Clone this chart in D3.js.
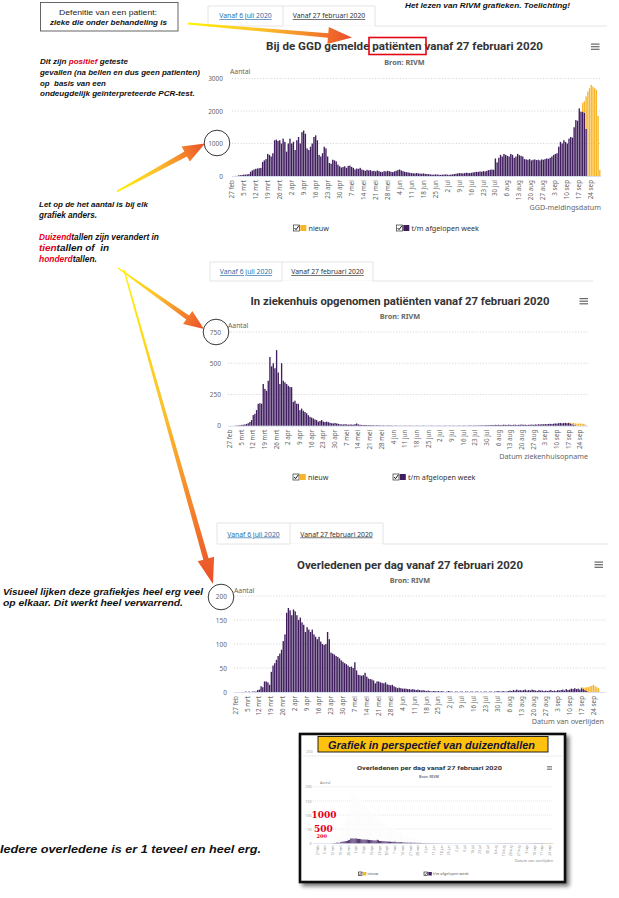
<!DOCTYPE html>
<html><head><meta charset="utf-8">
<script src="https://cdn.jsdelivr.net/npm/d3@7"></script>
<style>body{margin:0;background:#fff}svg{display:block}</style>
</head><body>
<svg id="c" width="619" height="898"></svg>
<script>
// ---------------- DATA ----------------
const tickLabels = ["27 feb","5 mrt","12 mrt","19 mrt","26 mrt","2 apr","9 apr","16 apr","23 apr","30 apr","7 mei","14 mei","21 mei","28 mei","4 jun","11 jun","18 jun","25 jun","2 jul","9 jul","16 jul","23 jul","30 jul","6 aug","13 aug","20 aug","27 aug","3 sep","10 sep","17 sep","24 sep"];
// GGD gemelde patiënten, "t/m afgelopen week" per dag vanaf 27 feb
const ggdWeek = [
0,0,2,3,20,25,30,45,40,50,
60,130,170,200,220,230,240,250,430,480,
520,680,650,600,700,1100,1120,1080,1100,1000,
1150,1050,750,1000,1150,1000,1050,800,1100,1200,
1000,1350,1400,1300,850,800,900,1000,1200,1250,
1100,650,600,700,900,850,600,400,380,500,
480,450,350,300,260,280,300,250,310,320,
280,250,200,230,220,250,200,180,160,190,
170,180,150,160,140,170,150,130,120,150,
140,160,150,130,120,140,160,180,200,170,
150,130,120,110,100,90,85,80,90,80,
75,70,80,65,60,55,50,45,40,50,
45,40,35,40,45,50,40,35,45,50,
60,70,80,90,85,80,90,100,95,90,
100,110,120,130,125,140,130,150,140,160,
180,190,200,190,540,420,560,650,600,680,
650,620,600,680,650,560,600,680,640,620,
600,520,510,500,520,480,500,510,490,500,
480,510,500,520,540,530,560,600,650,680,
700,900,1050,1000,1100,1050,1000,1150,1200,1180,
1500,1720,1700,2080,1980,1980,1950,1450,0,0,
0,0,0,0,0,0];
const ggdNewStart = 205;
const ggdNew = [270,350,1000,2600,2700,2800,2750,2700,2650,1850,185];
const ggdTicks = [0,1000,2000,3000];

// In ziekenhuis opgenomen
const zhWeek = [
0,0,0,1,2,3,4,6,8,10,
14,20,30,45,85,95,125,175,180,176,
334,295,280,360,550,475,500,460,605,426,
334,500,360,347,334,320,310,308,190,200,
176,176,124,137,120,110,100,84,71,65,
58,50,45,32,38,45,32,30,32,28,
24,20,18,22,18,15,12,10,10,12,
10,8,10,9,8,12,18,10,8,6,
5,6,5,4,5,4,4,3,4,3,
3,2,3,2,2,3,2,2,1,2,
2,1,2,1,1,2,1,1,2,1,
1,1,2,1,1,1,2,1,1,1,
1,2,1,1,1,2,1,1,1,2,
1,1,2,1,2,1,1,2,2,1,
2,2,1,2,3,2,2,3,2,3,
3,4,3,4,5,4,5,6,5,7,
6,7,5,6,8,7,6,8,7,6,
7,8,6,7,8,9,7,8,6,7,
8,9,7,10,9,11,10,12,11,13,
12,14,15,13,16,18,17,20,22,19,
21,23,20,22,18,12,8,4,0,0,
0,0,0,0];
const zhNewStart = 203;
const zhNew = [2,6,10,14,14,16,18,17,16,15,10];
const zhTicks = [0,250,500,750];

// Overledenen per dag
const ovlWeek = [
0,0,0,0,0,0,1,0,1,0,
1,1,1,4,5,12,10,22,22,20,
15,42,55,60,67,75,80,88,106,120,
165,175,170,160,172,168,160,150,155,145,
140,125,135,130,125,130,120,115,110,115,
105,100,98,100,125,110,82,80,78,75,
73,70,66,63,60,58,55,52,53,50,
62,45,36,35,34,35,40,32,28,27,
26,24,18,22,22,20,19,18,20,16,
15,14,15,12,10,8,9,8,7,7,
7,6,6,5,6,5,4,5,4,3,
4,3,2,3,2,1,2,2,1,2,
1,2,1,0,1,2,1,1,0,1,
1,0,1,1,0,1,1,0,1,1,
0,1,1,0,1,0,1,1,0,1,
1,0,1,1,2,1,1,2,1,1,
2,3,2,4,3,5,3,4,3,4,
5,3,4,3,5,4,3,2,4,3,
3,2,3,2,3,4,2,3,2,4,
3,4,5,3,6,4,5,7,6,8,
6,7,5,8,6,4,2,0,0,0,
0,0,0,0];
const ovlNewStart = 203;
const ovlNew = [2,3,5,8,10,12,13,15,12,10,8];
const ovlTicks = [0,50,100,150,200];
const miniTicks = [0,50,100,150,200];
const miniRedLabels = [["1000",1000],["500",500],["200",200]];

// ---------------- STYLE ----------------
const PURPLE = "#3f1d5e", ORANGE = "#f7b52c";
const FONT = "'Noto Sans', 'Open Sans', sans-serif";
const AFONT = "'Liberation Sans', Arial, sans-serif";
const svg = d3.select('#c');
const defs = svg.append('defs');
const fmt = d3.format('d');

// stretch to the wanted width, or shrink the font so the natural width never exceeds it
function fitText(sel, w){
  const nat = sel.node().getComputedTextLength();
  if (nat > w){
    const fs = parseFloat(sel.attr('font-size'));
    sel.attr('font-size', (fs * w / nat).toFixed(2));
  } else {
    sel.attr('textLength', w).attr('lengthAdjust','spacingAndGlyphs');
  }
}
function squeezeText(sel, w){
  sel.attr('textLength', w).attr('lengthAdjust','spacingAndGlyphs');
}
function richLine(x, y, segs, w, size){
  const t = svg.append('text').attr('x',x).attr('y',y).attr('font-family',AFONT)
    .attr('font-weight',700).attr('font-style','italic').attr('font-size',size||9).attr('fill','#111')
    .attr('xml:space','preserve');
  segs.forEach(s=>{
    if (typeof s === 'string') t.append('tspan').text(s);
    else t.append('tspan').attr('fill','#e2001a').text(s.r);
  });
  if (w) fitText(t, w);
  return t;
}
function arrow(id, x0,y0,x1,y1,w0,w1,hw,hl){
  const dx=x1-x0, dy=y1-y0, L=Math.hypot(dx,dy), ux=dx/L, uy=dy/L, nx=-uy, ny=ux;
  const bx=x1-ux*hl, by=y1-uy*hl;
  const pts=[[x0+nx*w0/2,y0+ny*w0/2],[bx+nx*w1/2,by+ny*w1/2],[bx+nx*hw,by+ny*hw],[x1,y1],
             [bx-nx*hw,by-ny*hw],[bx-nx*w1/2,by-ny*w1/2],[x0-nx*w0/2,y0-ny*w0/2]];
  const g=defs.append('linearGradient').attr('id',id).attr('gradientUnits','userSpaceOnUse')
    .attr('x1',x0).attr('y1',y0).attr('x2',x1).attr('y2',y1);
  g.append('stop').attr('offset',0).attr('stop-color','#fff200');
  g.append('stop').attr('offset',0.45).attr('stop-color','#fbc02d');
  g.append('stop').attr('offset',0.8).attr('stop-color','#f37a2a');
  g.append('stop').attr('offset',1).attr('stop-color','#e94e2a');
  svg.append('path').attr('d','M'+pts.map(p=>p.map(v=>v.toFixed(1)).join(',')).join('L')+'Z')
    .attr('fill',`url(#${id})`);
}
function checkbox(g, x, y, s, col){
  g.append('rect').attr('x',x).attr('y',y).attr('width',s).attr('height',s).attr('fill','#fff').attr('stroke','#333').attr('stroke-width',0.7);
  g.append('path').attr('d',`M${x+s*0.18},${y+s*0.5}L${x+s*0.42},${y+s*0.78}L${x+s*0.9},${y+s*0.12}`).attr('fill','none').attr('stroke','#111').attr('stroke-width',s*0.16);
  g.append('rect').attr('x',x+s+0.8).attr('y',y).attr('width',s).attr('height',s).attr('fill',col);
}

function drawChart(o){
  const g = svg.append('g');
  // tabs
  const tb = o.tabs;
  g.append('line').attr('x1',tb.x0).attr('x2',tb.x1).attr('y1',tb.yb).attr('y2',tb.yb).attr('stroke','#e4e4e4');
  g.append('line').attr('x1',tb.m).attr('x2',tb.x2).attr('y1',tb.yb+0.5).attr('y2',tb.yb+0.5).attr('stroke','#fff').attr('stroke-width',2);
  g.append('path').attr('d',`M${tb.x0},${tb.yb}V${tb.yt}H${tb.x2}V${tb.yb}M${tb.m},${tb.yt}V${tb.yb}`).attr('fill','none').attr('stroke','#e4e4e4');
  g.append('text').attr('x',(tb.x0+tb.m)/2).attr('y',tb.ty).attr('text-anchor','middle').attr('font-family',FONT)
    .attr('font-size',6.8).attr('fill','#2f6fa8').attr('text-decoration','underline').text('Vanaf 6 juli 2020');
  g.append('text').attr('x',(tb.m+tb.x2)/2).attr('y',tb.ty).attr('text-anchor','middle').attr('font-family',FONT)
    .attr('font-size',6.8).attr('fill','#333').attr('text-decoration','underline').text('Vanaf 27 februari 2020');

  // title
  const t = g.append('text').attr('x',o.tx).attr('y',o.ty).attr('text-anchor','middle').attr('font-family',"Roboto, 'Noto Sans', sans-serif")
    .attr('font-weight',700).attr('font-size',11.5).attr('fill','#333').text(o.title);
  squeezeText(t, o.tw);
  g.append('text').attr('x',o.tx).attr('y',o.by).attr('text-anchor','middle').attr('font-family',FONT)
    .attr('font-weight',700).attr('font-size',7.3).attr('fill','#666').text('Bron: RIVM');
  // menu icon
  for (let k=0;k<3;k++) g.append('rect').attr('x',o.mx).attr('y',o.my+k*2.6).attr('width',8.5).attr('height',1.2).attr('fill','#666');

  const x = d3.scaleBand().domain(d3.range(o.week.length)).range([o.bx0,o.bx1]).paddingInner(0.2);
  const y = d3.scaleLinear().domain([0,o.ticks[o.ticks.length-1]]).range([o.y0,o.y1]);

  g.selectAll('.grid').data(o.ticks.filter(v=>v>0)).join('line')
    .attr('x1',o.gx0).attr('x2',o.gx1).attr('y1',d=>y(d)).attr('y2',d=>y(d))
    .attr('stroke','#cfcfcf').attr('stroke-width',0.8).attr('stroke-dasharray','1.2,1.6');
  g.append('line').attr('x1',o.gx0).attr('x2',o.gx1).attr('y1',o.y0+0.5).attr('y2',o.y0+0.5).attr('stroke','#ccd6eb').attr('stroke-width',0.8);
  g.append('text').attr('x',o.ax).attr('y',o.ay).attr('font-family',FONT).attr('font-size',6.8).attr('fill','#666').text('Aantal');

  g.append('g').selectAll('rect').data(o.week).join('rect')
    .attr('x',(d,i)=>x(i)).attr('width',x.bandwidth()).attr('y',d=>y(d)).attr('height',d=>o.y0-y(d)).attr('fill',PURPLE);
  g.append('g').selectAll('rect').data(o.nw).join('rect')
    .attr('x',(d,i)=>x(o.ns+i)).attr('width',x.bandwidth())
    .attr('y',(d,i)=>y(o.week[o.ns+i]+d)).attr('height',(d,i)=>y(o.week[o.ns+i])-y(o.week[o.ns+i]+d)).attr('fill',ORANGE);

  const ya = g.append('g').attr('transform',`translate(${o.ylx},0)`)
    .call(d3.axisLeft(y).tickValues(o.ticks).tickFormat(fmt).tickSize(0).tickPadding(0));
  ya.select('.domain').remove();
  ya.selectAll('text').attr('font-family',FONT).attr('font-size',6.5).attr('fill','#666');

  const xa = g.append('g').attr('transform',`translate(0,${o.y0})`)
    .call(d3.axisBottom(x).tickValues(tickLabels.map((d,i)=>i*7)).tickFormat((d,i)=>tickLabels[i]).tickSize(0));
  xa.select('.domain').remove();
  xa.selectAll('text').attr('transform','rotate(-90)').attr('text-anchor','end').attr('x',-4).attr('y',0).attr('dy','0.33em')
    .attr('font-family',FONT).attr('font-size',6.3).attr('fill','#666');

  g.append('text').attr('x',o.xtx).attr('y',o.xty).attr('text-anchor','end').attr('font-family',FONT)
    .attr('font-size',7.2).attr('fill','#666').text(o.xtitle);

  if (o.ly){
    checkbox(g, o.l1, o.ly-6, 6, ORANGE);
    g.append('text').attr('x',o.l1+15).attr('y',o.ly).attr('font-family',FONT).attr('font-size',7.2).attr('fill','#333').text('nieuw');
    checkbox(g, o.l2, o.ly-6, 6, PURPLE);
    g.append('text').attr('x',o.l2+15).attr('y',o.ly).attr('font-family',FONT).attr('font-size',7.2).attr('fill','#333').text('t/m afgelopen week');
  }
  return {x,y};
}

// ------------- CHART 1 -------------
drawChart({tabs:{x0:208,m:283,x2:375,x1:607,yt:6,yb:26,ty:18},
  title:'Bij de GGD gemelde patiënten vanaf 27 februari 2020', tx:404.5, ty:49.5, tw:277, by:65, mx:591, my:43.5,
  week:ggdWeek, ns:ggdNewStart, nw:ggdNew, ticks:ggdTicks,
  bx0:231.1, bx1:600.5, y0:176, y1:78.5, gx0:232, gx1:601, ylx:223, ax:230, ay:74,
  xtitle:'GGD-meldingsdatum', xtx:601, xty:209.5, ly:231, l1:293.5, l2:396.5});

// ------------- CHART 2 -------------
drawChart({tabs:{x0:210,m:282,x2:373,x1:593,yt:262,yb:281,ty:274},
  title:'In ziekenhuis opgenomen patiënten vanaf 27 februari 2020', tx:400, ty:304.5, tw:299, by:319, mx:579.5, my:298,
  week:zhWeek, ns:zhNewStart, nw:zhNew, ticks:zhTicks,
  bx0:229.2, bx1:586, y0:425.7, y1:332, gx0:228, gx1:588, ylx:221, ax:228, ay:328,
  xtitle:'Datum ziekenhuisopname', xtx:588, xty:458.5, ly:480, l1:293, l2:393});

// ------------- CHART 3 -------------
drawChart({tabs:{x0:217,m:290,x2:383,x1:608,yt:523,yb:544,ty:536.5},
  title:'Overledenen per dag vanaf 27 februari 2020', tx:410, ty:568.5, tw:226, by:583, mx:594.5, my:561.5,
  week:ovlWeek, ns:ovlNewStart, nw:ovlNew, ticks:ovlTicks,
  bx0:234.85, bx1:599.3, y0:692, y1:596, gx0:234, gx1:605, ylx:227, ax:234, ay:593,
  xtitle:'Datum van overlijden', xtx:604, xty:724, ly:null});

// ------------- ANNOTATIONS -------------
// header box
svg.append('rect').attr('x',40.5).attr('y',2.5).attr('width',137.5).attr('height',28.5).attr('fill','#fff').attr('stroke','#555').attr('stroke-width',0.9);
{ const t1 = svg.append('text').attr('x',108).attr('y',14.5).attr('text-anchor','middle').attr('font-family',AFONT).attr('font-size',8).attr('fill','#222').text('Defenitie van een patient:'); fitText(t1,98);
  const t2 = svg.append('text').attr('x',108.5).attr('y',25).attr('text-anchor','middle').attr('font-family',AFONT).attr('font-weight',700).attr('font-style','italic').attr('font-size',8.3).attr('fill','#111').text('zieke die onder behandeling is'); fitText(t2,117); }
richLine(405, 8, ['Het lezen van RIVM grafieken. Toelichting!'], 165, 8);

richLine(40, 64.3, ['Dit zijn ', {r:'positief'}, ' geteste'], 88, 8.6);
richLine(40, 75.3, ['gevallen (na bellen en dus geen patienten)'], 160, 8.6);
richLine(40, 85.5, ['op  basis van een'], 66, 8.6);
richLine(40, 96, ['ondeugdelijk geïnterpreteerde PCR-test.'], 155, 8.6);

richLine(39, 207, ['Let op de het aantal is bij elk'], 109, 8.6);
richLine(39, 218, ['grafiek anders.'], 58, 8.6);
richLine(39, 239.5, [{r:'Duizend'}, 'tallen zijn verandert in'], 120, 8.6);
richLine(39, 250.5, [{r:'tien'}, 'tallen of  in'], 70, 8.6);
richLine(39, 261.5, [{r:'honderd'}, 'tallen.'], 58, 8.6);

richLine(3, 595, ['Visueel lijken deze grafiekjes heel erg veel'], 200, 9.3);
richLine(3, 606, ['op elkaar. Dit werkt heel verwarrend.'], 180, 9.3);
richLine(0, 853, ['Iedere overledene is er 1 teveel en heel erg.'], 261, 11.5);

// red box around "patiënten"
svg.append('rect').attr('x',369).attr('y',37.5).attr('width',57).attr('height',17).attr('fill','none').attr('stroke','#e30613').attr('stroke-width',1.6);

// circles
[[217,143],[216,332],[221,597]].forEach(c=>svg.append('circle').attr('cx',c[0]).attr('cy',c[1]).attr('r',12.8).attr('fill','none').attr('stroke','#222').attr('stroke-width',0.9));

// arrows
arrow('ga1', 188,23.5, 352,37.5, 2,4.5, 8.5,24);
arrow('ga2', 117,191.5, 205,143.5, 1.5,5.5, 8.5,22);
arrow('ga3', 118,268, 204,329, 1.2,5, 8,20);
arrow('ga4', 124,270, 213,584, 1.2,5.5, 8.5,26);

// ------------- INSET -------------
{
  const f = defs.append('filter').attr('id','sh').attr('x','-10%').attr('y','-10%').attr('width','130%').attr('height','130%');
  f.append('feGaussianBlur').attr('in','SourceAlpha').attr('stdDeviation',2.2);
  f.append('feOffset').attr('dx',3).attr('dy',3).attr('result','ob');
  f.append('feComponentTransfer').append('feFuncA').attr('type','linear').attr('slope',0.55);
  const m = f.append('feMerge'); m.append('feMergeNode'); m.append('feMergeNode').attr('in','SourceGraphic');
  svg.append('rect').attr('x',300).attr('y',734).attr('width',265).attr('height',148).attr('fill','#fff').attr('stroke','#111').attr('stroke-width',2.6).attr('filter','url(#sh)');
  const g = svg.append('g');
  g.append('line').attr('x1',303).attr('x2',562).attr('y1',756).attr('y2',756).attr('stroke','#eee');
  g.append('text').attr('x',306).attr('y',753).attr('font-family',FONT).attr('font-size',4).attr('fill','#aaa').text('200');
  g.append('rect').attr('x',318).attr('y',736.5).attr('width',230).attr('height',15.5).attr('fill','#fec10e').attr('stroke','#111').attr('stroke-width',0.9);
  const bt = g.append('text').attr('x',431.5).attr('y',748.5).attr('text-anchor','middle').attr('font-family',AFONT).attr('font-weight',700).attr('font-style','italic').attr('font-size',10.5).attr('fill','#141433').text('Grafiek in perspectief van duizendtallen');
  fitText(bt, 207);
  const mt = g.append('text').attr('x',429.5).attr('y',769.5).attr('text-anchor','middle').attr('font-family',"Roboto, sans-serif").attr('font-weight',700).attr('font-size',5.6).attr('fill','#333').text('Overledenen per dag vanaf 27 februari 2020');
  squeezeText(mt,145);
  g.append('text').attr('x',429).attr('y',778).attr('text-anchor','middle').attr('font-family',FONT).attr('font-weight',700).attr('font-size',3.6).attr('fill','#777').text('Bron: RIVM');
  for (let k=0;k<3;k++) g.append('rect').attr('x',547).attr('y',766+k*1.6).attr('width',5).attr('height',0.8).attr('fill','#777');
  g.append('text').attr('x',320).attr('y',783.5).attr('font-family',FONT).attr('font-size',3.5).attr('fill','#888').text('Aantal');

  const xm = d3.scaleBand().domain(d3.range(ovlWeek.length)).range([317.1, 553.7]).paddingInner(0.2);
  const yo = d3.scaleLinear().domain([0,200]).range([843.3,786.7]);   // original scale (ghost)
  const yk = d3.scaleLinear().domain([0,1000]).range([843.3,814.7]);  // thousands perspective
  g.selectAll('.mg').data(miniTicks.filter(v=>v>0)).join('line').attr('x1',313).attr('x2',553).attr('y1',d=>yo(d)).attr('y2',d=>yo(d))
    .attr('stroke','#d6d6d6').attr('stroke-width',0.6).attr('stroke-dasharray','1,1');
  g.append('line').attr('x1',313).attr('x2',553).attr('y1',843.5).attr('y2',843.5).attr('stroke','#ccd6eb').attr('stroke-width',0.6);
  // ghost of original bars (white, cutting the gridlines)
  g.append('g').selectAll('rect').data(ovlWeek).join('rect').attr('x',(d,i)=>xm(i)).attr('width',xm.bandwidth())
    .attr('y',d=>yo(d)).attr('height',d=>843.3-yo(d)).attr('fill','#fcfcfc');
  g.append('g').selectAll('rect').data(ovlWeek).join('rect').attr('x',(d,i)=>xm(i)).attr('width',xm.bandwidth())
    .attr('y',d=>yk(d)).attr('height',d=>843.3-yk(d)).attr('fill',PURPLE);
  g.append('g').selectAll('rect').data(ovlNew).join('rect').attr('x',(d,i)=>xm(ovlNewStart+i)).attr('width',xm.bandwidth())
    .attr('y',(d,i)=>yk(ovlWeek[ovlNewStart+i]+d)).attr('height',(d,i)=>yk(ovlWeek[ovlNewStart+i])-yk(ovlWeek[ovlNewStart+i]+d)).attr('fill',ORANGE);
  const yam = g.append('g').attr('transform','translate(311.5,0)').call(d3.axisLeft(yo).tickValues(miniTicks).tickSize(0).tickPadding(0));
  yam.select('.domain').remove();
  yam.selectAll('text').attr('font-family',FONT).attr('font-size',3.6).attr('fill','#999');
  g.selectAll('.red').data(miniRedLabels).join('text')
    .attr('x',d=>d[1]===1000?311.5:(d[1]===500?314:316.5)).attr('y',d=>yk(d[1])+(d[1]===200?-1.5:0))
    .attr('font-family',"'DejaVu Serif', 'Liberation Serif', serif").attr('font-weight',700)
    .attr('font-size',d=>d[1]===200?5:9).attr('fill','#e2001a').attr('dy','0.35em').text(d=>d[0]);
  const xam = g.append('g').attr('transform','translate(0,843.3)')
    .call(d3.axisBottom(xm).tickValues(tickLabels.map((d,i)=>i*7)).tickFormat((d,i)=>tickLabels[i]).tickSize(0));
  xam.select('.domain').remove();
  xam.selectAll('text').attr('transform','rotate(-90)').attr('text-anchor','end').attr('x',-2).attr('y',0).attr('dy','0.33em')
    .attr('font-family',FONT).attr('font-size',3.4).attr('fill','#888');
  g.append('text').attr('x',553).attr('y',862).attr('text-anchor','end').attr('font-family',FONT).attr('font-size',3.8).attr('fill','#888').text('Datum van overlijden');
  checkbox(g, 358.5, 872, 3.5, ORANGE);
  g.append('text').attr('x',367.5).attr('y',875.3).attr('font-family',FONT).attr('font-size',3.8).attr('fill','#555').text('nieuw');
  checkbox(g, 424, 872, 3.5, PURPLE);
  g.append('text').attr('x',433).attr('y',875.3).attr('font-family',FONT).attr('font-size',3.8).attr('fill','#555').text('t/m afgelopen week');
}
</script>
</body></html>
